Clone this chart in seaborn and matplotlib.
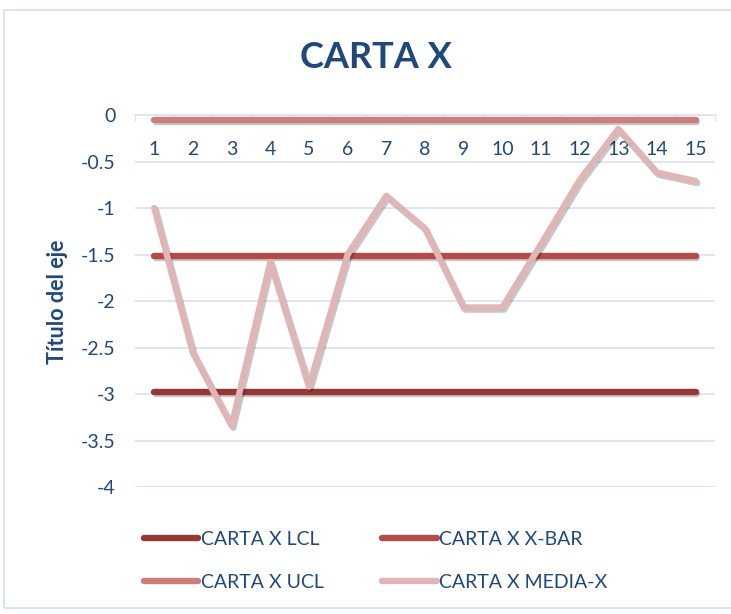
import numpy as np
import pandas as pd
import matplotlib
matplotlib.use("Agg")
import matplotlib.pyplot as plt
import matplotlib.patheffects as pe
from matplotlib.lines import Line2D
from matplotlib.patches import Rectangle
import seaborn as sns

# ---- data ----
muestras = list(range(1, 16))
lcl = [-2.98] * 15
xbar = [-1.52] * 15
ucl = [-0.055] * 15
media_x = [-1.0, -2.56, -3.34, -1.58, -2.92, -1.5, -0.87, -1.22, -2.07, -2.07,
           -1.39, -0.7, -0.15, -0.62, -0.71]
series_names = ["CARTA X LCL", "CARTA X X-BAR", "CARTA X UCL", "CARTA X MEDIA-X"]
series_colors = ["#953735", "#B44B48", "#CD7D7B", "#DFB6B5"]
y_ticks = [0, -0.5, -1, -1.5, -2, -2.5, -3, -3.5, -4]
y_tick_labels = ["0", "-0.5", "-1", "-1.5", "-2", "-2.5", "-3", "-3.5", "-4"]
x_tick_labels = [str(m) for m in muestras]
title = "CARTA X"
y_label = "Título del eje"

df = pd.concat([
    pd.DataFrame({"muestra": muestras, "valor": vals, "serie": name})
    for name, vals in zip(series_names, [lcl, xbar, ucl, media_x])
], ignore_index=True)

sns.set_theme(style="white")
plt.rcParams["font.family"] = ["Lato", "DejaVu Sans"]
text_color = "#1F497D"
grid_color = "#DAE5F2"

fig = plt.figure(figsize=(7.31, 6.14), dpi=100)
ax = fig.add_axes([0.1847, 0.2068, 0.7934, 0.6059])

sns.lineplot(data=df, x="muestra", y="valor", hue="serie", hue_order=series_names,
             palette=series_colors, linewidth=4.6, legend=False, ax=ax, sort=False)

shadow = [pe.SimpleLineShadow(offset=(1.2, -1.5), shadow_color="#000000", alpha=0.22),
          pe.Normal()]
for ln in ax.get_lines():
    ln.set_solid_capstyle("round")
    ln.set_solid_joinstyle("round")
    ln.set_path_effects(shadow)

ax.set_xlim(0.5, 15.5)
ax.set_ylim(-4, 0)
ax.set_yticks(y_ticks)
ax.set_yticklabels(y_tick_labels)
ax.set_xticks(muestras)
ax.set_xticklabels(x_tick_labels)
ax.xaxis.tick_top()
ax.tick_params(axis="x", which="major", length=0, pad=-31, labelsize=14,
               labelcolor=text_color)
ax.set_xticks(np.arange(0.5, 16, 1), minor=True)
ax.tick_params(axis="x", which="minor", length=4, direction="in", color=grid_color,
               top=True, bottom=False)
ax.tick_params(axis="y", length=0, pad=14, labelsize=14, labelcolor=text_color)
ax.yaxis.grid(True, color=grid_color, linewidth=1.3)
ax.xaxis.grid(False)
ax.set_axisbelow(True)
for s in ["left", "right", "bottom"]:
    ax.spines[s].set_visible(False)
ax.spines["top"].set_color(grid_color)
ax.spines["top"].set_linewidth(1.3)
ax.set_xlabel("")
ax.set_ylabel(y_label, fontsize=15.5, fontweight="bold", color=text_color)
ax.yaxis.set_label_coords(-0.134, 0.497)
ax.yaxis.label.set_va("center")

fig.text(0.514, 1 - 58 / 614, title, ha="center", va="center", fontsize=26,
         fontweight="bold", color=text_color)

handles = [Line2D([], [], color=c, linewidth=4.6, solid_capstyle="round")
           for c in series_colors]
order = [0, 2, 1, 3]
leg = fig.legend([handles[i] for i in order], [series_names[i] for i in order],
                 ncol=2, loc="center left", bbox_to_anchor=(0.1964, 1 - 561 / 614),
                 frameon=False, fontsize=14, handlelength=2.8, handletextpad=0.15,
                 columnspacing=3.0, labelspacing=1.36, borderpad=0, borderaxespad=0)
for t in leg.get_texts():
    t.set_color(text_color)

fig.patches.append(Rectangle((4 / 731, 1 - 608 / 614), 1.0, 598 / 614,
                             transform=fig.transFigure, fill=False,
                             edgecolor="#D5E2F1", linewidth=1.3))

fig.savefig("out.png", dpi=100, facecolor="white")
